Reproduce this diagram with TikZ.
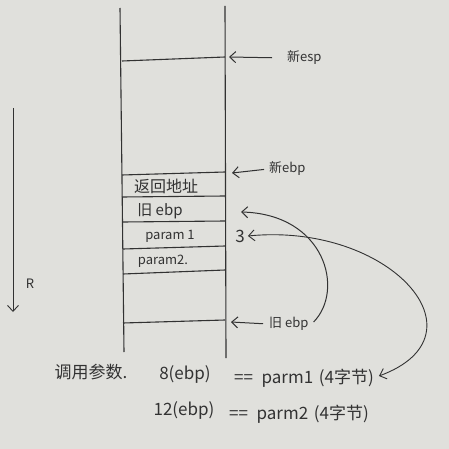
\documentclass[tikz,border=0pt]{standalone}
\usepackage{fontspec}
\newfontfamily\cjk{Noto Sans CJK SC}
\usetikzlibrary{arrows.meta}
\definecolor{paper}{RGB}{224,224,220}
\definecolor{ink}{RGB}{50,50,50}
\tikzset{
  stk/.style={draw=ink, line width=1.1pt},
  lbl/.style={text=ink, font=\cjk\fontsize{13}{15}\selectfont, inner sep=1pt},
  big/.style={lbl, font=\cjk\fontsize{17}{19}\selectfont},
  ptr/.style={draw=ink, line width=1pt, -{Straight Barb[length=6pt,width=11pt]}},
  bptr/.style={draw=ink, line width=0.9pt, {Straight Barb[length=6pt,width=11pt]}-{Straight Barb[length=6pt,width=11pt]}}
}
\begin{document}
\begin{tikzpicture}[x=1pt,y=-1pt]
\fill[paper] (0,0) rectangle (449,449);
\useasboundingbox (0,0) rectangle (449,449);

% stack frame
\draw[stk] (120,8) -- (124,352);
\draw[stk] (225,6) -- (226,358);
\draw[stk] (122,61) -- (225,57);
\draw[stk] (122,175) -- (225,172);
\draw[stk] (122,197) -- (225,196);
\draw[stk] (123,222) -- (225,221);
\draw[stk] (123,249) -- (225,246);
\draw[stk] (123,274) -- (225,270);
\draw[stk] (123,323) -- (225,320);

% cell labels
\node[lbl, font=\cjk\fontsize{16}{18}\selectfont] (ret) at (166,186) {返回地址};
\node[lbl, font=\cjk\fontsize{15}{17}\selectfont] (oldebp) at (160,211) {旧 ebp};
\node[lbl] (p1) at (170,236) {param 1};
\node[lbl] (p2) at (163,261) {param2.};

% right pointers
\coordinate (espTip) at (229,57);
\coordinate (ebpTip) at (232,173);
\coordinate (oldTip) at (231,322);
\node[lbl, anchor=west] (newesp) at (286,58) {新esp};
\node[lbl, anchor=west] (newebp) at (268,169) {新ebp};
\node[lbl, anchor=west] (oldR) at (268,324) {旧 ebp};
\draw[ptr, shorten <=14pt] (newesp.west) -- (espTip);
\draw[ptr, shorten <=4pt] (newebp.west) -- (ebpTip);
\draw[ptr, shorten <=5pt] (oldR.west) -- (oldTip);

% brace and curved pointers
\node[lbl, font=\cjk\fontsize{17}{19}\selectfont] (brace) at (240,236) {3};
\coordinate (cellTip) at (241,212);
\draw[ptr] ([xshift=4pt,yshift=2pt]oldR.east) .. controls (345,290) and (325,214) .. (cellTip);

% bottom text
\node[big] (call) at (91,372) {调用参数.};
\node[big] (off8) at (185,374) {8(ebp)};
\node[big, anchor=west] (eq1) at (233,378) {==\,\,\,parm1\,\,(4字节)};
\node[big] (off12) at (184,410) {12(ebp)};
\node[big, anchor=west] (eq2) at (228,414) {==\,\,\,parm2\,\,(4字节)};

\draw[bptr] ([xshift=2pt]brace.east) .. controls (390,222) and (490,335) .. ([xshift=4pt,yshift=2pt]eq1.east);

% direction arrow
\coordinate (dirTop) at (13,108);
\coordinate (dirBot) at (13,312);
\draw[ptr, line width=0.9pt] (dirTop) -- (dirBot);
\node[lbl] (R) at (30,284) {R};
\end{tikzpicture}
\end{document}
